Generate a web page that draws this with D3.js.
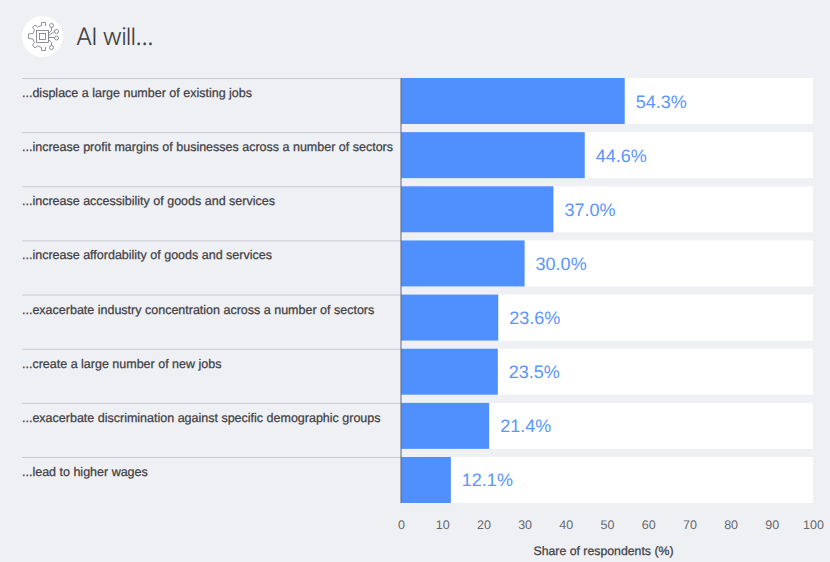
<!DOCTYPE html>
<html>
<head>
<meta charset="utf-8">
<script src="https://cdn.jsdelivr.net/npm/d3@7"></script>
<style>
html, body { margin: 0; padding: 0; background: #eff0f4; }
svg { display: block; font-family: "Liberation Sans", Arial, sans-serif; text-rendering: geometricPrecision; }
</style>
</head>
<body>
<div id="chart"></div>
<script>
var categories = [
    "...displace a large number of existing jobs",
    "...increase profit margins of businesses across a number of sectors",
    "...increase accessibility of goods and services",
    "...increase affordability of goods and services",
    "...exacerbate industry concentration across a number of sectors",
    "...create a large number of new jobs",
    "...exacerbate discrimination against specific demographic groups",
    "...lead to higher wages"
];
var values = [54.3, 44.6, 37.0, 30.0, 23.6, 23.5, 21.4, 12.1];
var xTicks = [0, 10, 20, 30, 40, 50, 60, 70, 80, 90, 100];
var chartTitle = "AI will...";
var xTitle = "Share of respondents (%)";

var width = 830,
    height = 562;

var x = d3.scaleLinear().domain([0, 100]).range([401, 813]);

var y = d3.scaleBand()
    .domain(categories)
    .range([78, 503])
    .paddingInner(0.15)
    .paddingOuter(0);

var svg = d3.select("#chart")
    .append("svg")
    .attr("width", width)
    .attr("height", height);

// header
svg.append("circle")
    .attr("cx", 42.5)
    .attr("cy", 36.5)
    .attr("r", 20.5)
    .attr("fill", "#fff");

var icon = svg.append("g")
    .attr("transform", "translate(42.5,36.5)")
    .attr("fill", "none")
    .attr("stroke", "#75777e")
    .attr("stroke-width", 0.8);

// gear outline, open on the right where the circuit traces leave
icon.append("path")
    .attr("d", "M3,-14 L-1,-14 L-1,-11 L-5,-9.5 L-7.5,-11.5 L-10,-9 L-8,-6.5 L-9.5,-3 L-14,-2.5 L-14,2 L-9.5,2.5 L-8,6 L-10,8.5 L-7.5,11.5 L-5,9.5 L-1,11 L-1,14 L3,14 L3,10.5");
icon.append("path").attr("d", "M3,-14 L3,-10.5");
icon.append("rect").attr("x", -6).attr("y", -6).attr("width", 12).attr("height", 12);
icon.append("rect").attr("x", -3).attr("y", -3).attr("width", 6).attr("height", 6);
icon.append("path").attr("d", "M6,-3 L9,-6 L9,-9 M6,-1 L12,-5 M6,1 L12,1 M6,3 L9,6 L9,9");
icon.selectAll("circle.node")
    .data([[9, -11], [14, -5], [14, 1.5], [9, 11]])
    .enter().append("circle")
    .attr("class", "node")
    .attr("cx", function (d) { return d[0]; })
    .attr("cy", function (d) { return d[1]; })
    .attr("r", 2);

svg.append("text")
    .attr("x", 76)
    .attr("y", 45)
    .attr("font-family", "Inter, 'Liberation Sans', sans-serif")
    .attr("font-size", 24)
    .attr("font-weight", 300)
    .attr("letter-spacing", -0.9)
    .attr("fill", "#3f4044")
    .text(chartTitle);

// rows
var row = svg.selectAll("g.row")
    .data(categories)
    .enter().append("g")
    .attr("class", "row");

row.append("rect")
    .attr("x", x(0))
    .attr("y", function (d) { return y(d); })
    .attr("width", x(100) - x(0))
    .attr("height", y.bandwidth())
    .attr("fill", "#fff");

row.append("line")
    .attr("x1", 22)
    .attr("x2", x(0))
    .attr("y1", function (d) { return y(d) + 0.5; })
    .attr("y2", function (d) { return y(d) + 0.5; })
    .attr("stroke", "#c7c8d0")
    .attr("stroke-width", 1);

row.append("rect")
    .attr("x", x(0))
    .attr("y", function (d) { return y(d); })
    .attr("width", function (d, i) { return x(values[i]) - x(0); })
    .attr("height", y.bandwidth())
    .attr("fill", "#4f8ffe");

row.append("text")
    .attr("x", 22)
    .attr("y", function (d) { return y(d) + 19; })
    .attr("font-size", 12.5)
    .attr("stroke", "#3f4044")
    .attr("stroke-width", 0.25)
    .attr("fill", "#3f4044")
    .text(function (d) { return d; });

row.append("text")
    .attr("x", function (d, i) { return x(values[i]) + 11; })
    .attr("y", function (d) { return y(d) + y.bandwidth() / 2 + 6.5; })
    .attr("font-size", 18)
    .attr("fill", "#5a96fd")
    .text(function (d, i) { return values[i].toFixed(1) + "%"; });

// zero line
svg.append("line")
    .attr("x1", x(0))
    .attr("x2", x(0))
    .attr("y1", 78)
    .attr("y2", 503)
    .attr("stroke", "#5d6678")
    .attr("stroke-width", 1);

// x axis
var xAxis = svg.append("g")
    .attr("transform", "translate(0,503)")
    .call(d3.axisBottom(x).tickValues(xTicks).tickSize(0).tickPadding(17));

xAxis.select(".domain").remove();
xAxis.selectAll("text")
    .attr("font-family", "'Liberation Sans', Arial, sans-serif")
    .attr("font-size", 12.5)
    .attr("fill", "#66676c");

svg.append("text")
    .attr("x", 603.5)
    .attr("y", 555)
    .attr("text-anchor", "middle")
    .attr("font-size", 12.3)
    .attr("stroke", "#3f4044")
    .attr("stroke-width", 0.25)
    .attr("fill", "#3f4044")
    .text(xTitle);
</script>
</body>
</html>
